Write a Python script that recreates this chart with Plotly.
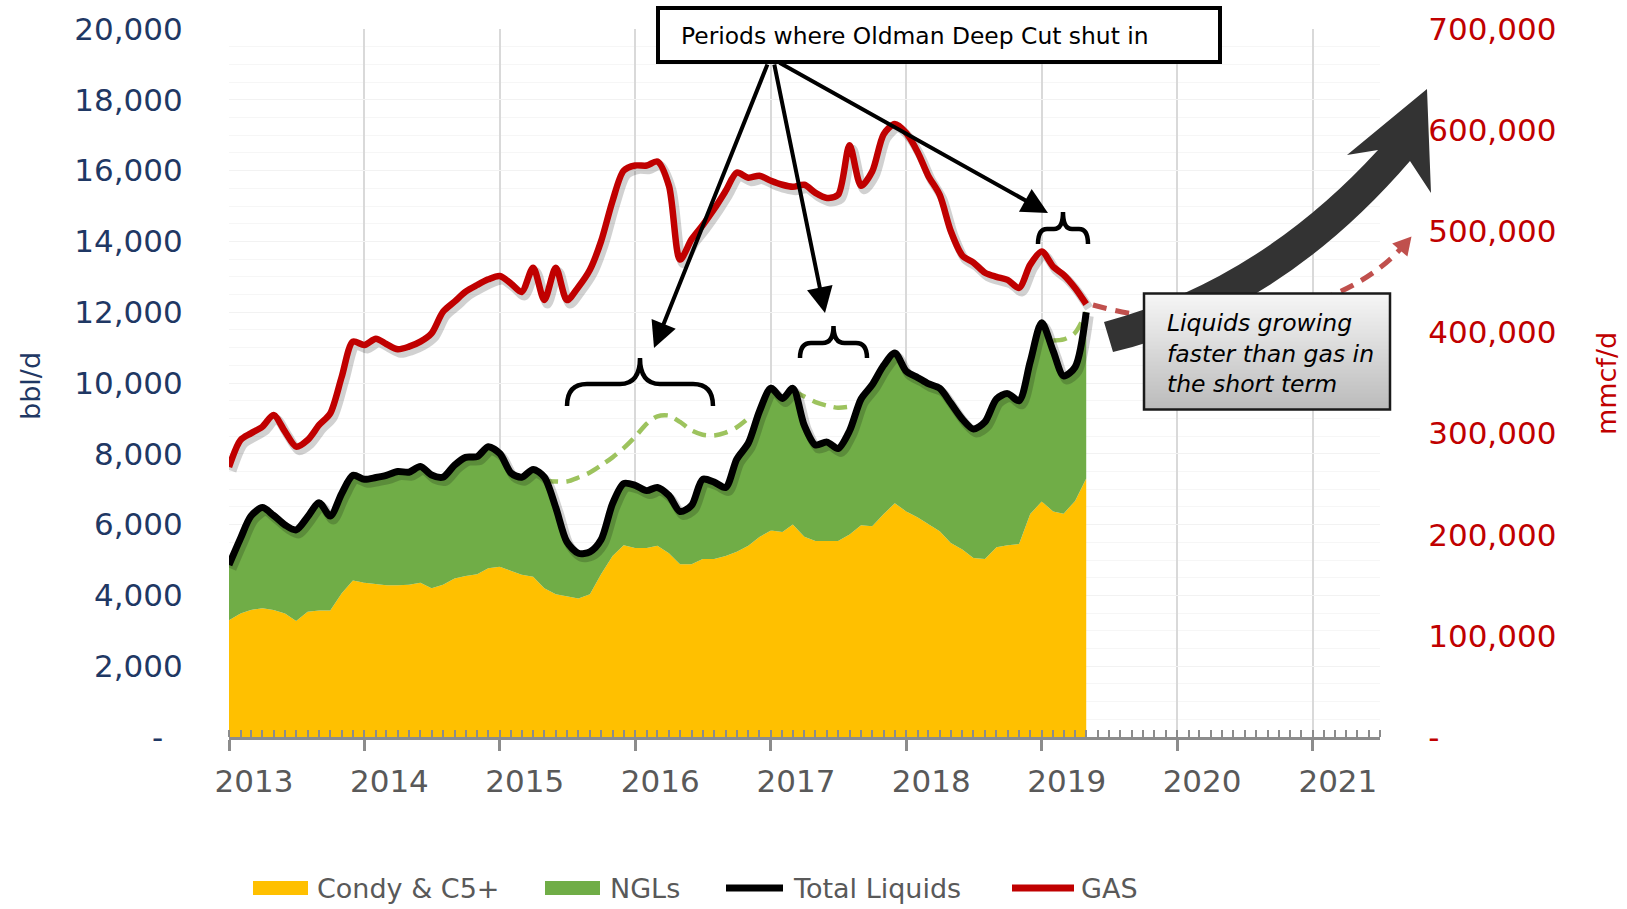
import pandas as pd
import plotly.graph_objects as go

# ---------------- data: monthly averages, Jan 2013 - May 2019 ----------------
months = pd.date_range("2013-01-01", "2019-05-01", freq="MS")

# bbl/d
condy = [3300, 3490, 3590, 3640, 3590, 3490, 3280, 3540, 3570, 3570,
         4060, 4420, 4360, 4320, 4290, 4290, 4300, 4360, 4200, 4300,
         4480, 4550, 4600, 4770, 4810, 4690, 4580, 4530, 4200, 4030,
         3970, 3910, 4030, 4600, 5110, 5420, 5340, 5340, 5400, 5190,
         4880, 4880, 5030, 5030, 5110, 5230, 5400, 5650, 5830, 5790,
         6000, 5660, 5540, 5540, 5540, 5720, 5980, 5950, 6300, 6600,
         6370, 6200, 6020, 5810, 5480, 5300, 5060, 5030, 5360, 5420,
         5450, 6300, 6650, 6370, 6310, 6670, 7300]

ngls = [1560, 2120, 2650, 2840, 2670, 2500, 2570, 2680, 3050, 2670,
        2820, 2970, 2920, 3010, 3100, 3210, 3180, 3280, 3200, 3040,
        3200, 3350, 3320, 3430, 3200, 2760, 2760, 3030, 3140, 2450,
        1540, 1280, 1200, 970, 1480, 1740, 1770, 1620, 1650, 1630,
        1490, 1660, 2250, 2170, 1940, 2620, 2900, 3550, 4020, 3770,
        3850, 3140, 2710, 2790, 2610, 2930, 3570, 4000, 4200, 4250,
        3960, 3950, 3960, 4040, 3950, 3680, 3640, 3870, 4190, 4280,
        4050, 4300, 5050, 4530, 3890, 3780, 4700]

total_liquids = [4860, 5610, 6240, 6480, 6260, 5990, 5850, 6220, 6620, 6240,
                 6880, 7390, 7280, 7330, 7390, 7500, 7480, 7640, 7400, 7340,
                 7680, 7900, 7920, 8200, 8010, 7450, 7340, 7560, 7340, 6480,
                 5510, 5190, 5230, 5570, 6590, 7160, 7110, 6960, 7050, 6820,
                 6370, 6540, 7280, 7200, 7050, 7850, 8300, 9200, 9850, 9560,
                 9850, 8800, 8250, 8330, 8150, 8650, 9550, 9950, 10500, 10850,
                 10330, 10150, 9980, 9850, 9430, 8980, 8700, 8900, 9550, 9700,
                 9500, 10600, 11700, 10900, 10200, 10450, 12000]

# mmcf/d
gas = [267000, 293600, 300200, 306800, 318400, 301900, 287100, 293600, 308500, 320000,
       356300, 390900, 387600, 393800, 388600, 383300, 385900, 390900, 399100, 420500,
       430400, 440300, 446900, 452500, 455800, 448000, 440000, 464000, 432000, 464000,
       432000, 445000, 462000, 490000, 530000, 560000, 565000, 565000, 569000, 545000,
       472000, 492000, 506000, 522000, 540000, 558000, 553000, 555000, 550000, 546000,
       544000, 546000, 538000, 533000, 536000, 585000, 545000, 559000, 596000, 606000,
       597000, 578000, 555000, 536000, 500000, 476000, 469000, 459000, 455000, 452000,
       444000, 467000, 480000, 465000, 457000, 444000, 428000]

# liquids expected without the Oldman Deep Cut shut-ins (bbl/d)
shutin_1_start = "2015-05-01"
shutin_1 = [7230, 7220, 7220, 7330, 7470, 7670, 7900, 8160, 8480, 8850,
            9060, 9080, 8900, 8660, 8540, 8520, 8600, 8750, 9000]
shutin_2_start = "2017-03-01"
shutin_2 = [9780, 9620, 9460, 9360, 9300, 9330]
shutin_3_start = "2019-02-01"
shutin_3 = [11200, 11230, 11420, 12000]

left_tick_vals = [0, 2000, 4000, 6000, 8000, 10000, 12000, 14000, 16000, 18000, 20000]
left_tick_text = ["-\u00a0\u00a0", "2,000", "4,000", "6,000", "8,000", "10,000",
                  "12,000", "14,000", "16,000", "18,000", "20,000"]
right_tick_vals = [0, 100000, 200000, 300000, 400000, 500000, 600000, 700000]
right_tick_text = ["-", "100,000", "200,000", "300,000", "400,000", "500,000",
                   "600,000", "700,000"]

# ---------------- styling ----------------
FONT = "DejaVu Sans"
NAVY = "#1F3864"
RED = "#C00000"
GRAY = "#595959"
YELLOW = "#FFC000"
GREEN = "#70AD47"
LIGHT_GREEN = "#9DC35E"
AXIS_GRAY = "#8C8C8C"

W_PX, H_PX = 1627, 909
L, R, T, B = 229, 1380, 29, 737          # plot area in page pixels


def fx(x):
    return (x - L) / (R - L)


def fy(y):
    return (B - y) / (B - T)


def pt(x, y):
    return f"{fx(x):.5f},{fy(y):.5f}"


def brace_path(x0, x1, ytip, ybar, yend, r):
    xm = (x0 + x1) / 2
    return (f"M {pt(x0, yend)} Q {pt(x0, ybar)} {pt(x0 + r, ybar)} "
            f"L {pt(xm - r, ybar)} Q {pt(xm, ybar)} {pt(xm, ytip)} "
            f"Q {pt(xm, ybar)} {pt(xm + r, ybar)} "
            f"L {pt(x1 - r, ybar)} Q {pt(x1, ybar)} {pt(x1, yend)}")


fig = go.Figure()

# stacked areas
fig.add_trace(go.Scatter(x=months, y=condy, name="Condy & C5+", mode="lines",
                         stackgroup="liq", line=dict(width=0, color=YELLOW),
                         fillcolor=YELLOW))
fig.add_trace(go.Scatter(x=months, y=ngls, name="NGLs", mode="lines",
                         stackgroup="liq", line=dict(width=0, color=GREEN),
                         fillcolor=GREEN))

# expected liquids during shut-ins
for start, vals in [(shutin_1_start, shutin_1), (shutin_2_start, shutin_2),
                    (shutin_3_start, shutin_3)]:
    fig.add_trace(go.Scatter(x=pd.date_range(start, periods=len(vals), freq="MS"),
                             y=vals, mode="lines", showlegend=False,
                             line=dict(color=LIGHT_GREEN, width=4.5, dash="14px,8px",
                                       shape="spline", smoothing=0.8)))

# soft drop shadows under the two main lines
shift = pd.Timedelta(days=8)
px_left = 20000 / (B - T)
px_right = 700000 / (B - T)
fig.add_trace(go.Scatter(x=months + shift, y=[v - 4 * px_left for v in total_liquids],
                         mode="lines", showlegend=False, hoverinfo="skip",
                         line=dict(color="rgba(0,0,0,0.18)", width=9,
                                   shape="spline", smoothing=0.8)))
fig.add_trace(go.Scatter(x=months, y=total_liquids, name="Total Liquids", mode="lines",
                         line=dict(color="black", width=7, shape="spline",
                                   smoothing=0.8)))
fig.add_trace(go.Scatter(x=months + shift, y=[v - 4 * px_right for v in gas],
                         yaxis="y2", mode="lines", showlegend=False, hoverinfo="skip",
                         line=dict(color="rgba(0,0,0,0.18)", width=9,
                                   shape="spline", smoothing=0.8)))
fig.add_trace(go.Scatter(x=months, y=gas, name="GAS", mode="lines", yaxis="y2",
                         line=dict(color=RED, width=6.5, shape="spline", smoothing=0.8)))

shapes = []

# dashed red projection arrow (gas)
p0, c1, c2, p3 = (1093, 305), (1200, 335), (1340, 320), (1405, 244)
shapes.append(dict(type="path", xref="paper", yref="paper", layer="above",
                   path=f"M {pt(*p0)} C {pt(*c1)} {pt(*c2)} {pt(*p3)}",
                   line=dict(color="#C0504D", width=5, dash="14px,9px")))
dx, dy = p3[0] - c2[0], p3[1] - c2[1]
ln = (dx * dx + dy * dy) ** 0.5
ux, uy = dx / ln, dy / ln
nx, ny = -uy, ux
tip = (p3[0] + 10 * ux, p3[1] + 10 * uy)
base = (p3[0] - 8 * ux, p3[1] - 8 * uy)
shapes.append(dict(type="path", xref="paper", yref="paper", layer="above",
                   path=(f"M {pt(*tip)} L {pt(base[0] + 10 * nx, base[1] + 10 * ny)} "
                         f"L {pt(base[0] - 10 * nx, base[1] - 10 * ny)} Z"),
                   fillcolor="#C0504D", line=dict(width=0)))

# big curved arrow (liquids)
arrow = (f"M {pt(1104, 322)} Q {pt(1259, 280)} {pt(1378, 150)} "
         f"L {pt(1347, 155)} L {pt(1427, 89)} L {pt(1431, 193)} L {pt(1410, 161)} "
         f"Q {pt(1280, 312)} {pt(1113, 352)} Z")
shapes.append(dict(type="path", xref="paper", yref="paper", layer="above",
                   path=arrow, fillcolor="#333333", line=dict(width=0)))

# gradient call-out box
bx0, bx1, by0, by1 = 1144, 1390, 293.5, 409.5
n_strips = 29
for i in range(n_strips):
    g = int(round(245 - (245 - 188) * i / (n_strips - 1)))
    ya = by0 + (by1 - by0) * i / n_strips
    yb = by0 + (by1 - by0) * (i + 1) / n_strips + 0.6
    shapes.append(dict(type="rect", xref="paper", yref="paper", layer="above",
                       x0=fx(bx0), x1=fx(bx1), y0=fy(yb), y1=fy(ya),
                       fillcolor=f"rgb({g},{g},{g})", line=dict(width=0)))
shapes.append(dict(type="rect", xref="paper", yref="paper", layer="above",
                   x0=fx(bx0), x1=fx(bx1), y0=fy(by1), y1=fy(by0),
                   line=dict(color="#1A1A1A", width=2.5)))

# title box
shapes.append(dict(type="rect", xref="paper", yref="paper", layer="above",
                   x0=fx(658), x1=fx(1220), y0=fy(62), y1=fy(8),
                   fillcolor="white", line=dict(color="black", width=4)))

# braces over the shut-in periods
for x0, x1, ytip, ybar, yend, r in [(567, 713, 358, 384, 406, 20),
                                    (800, 867, 326, 343, 358, 11),
                                    (1038, 1088, 212, 229, 244, 9)]:
    shapes.append(dict(type="path", xref="paper", yref="paper", layer="above",
                       path=brace_path(x0, x1, ytip, ybar, yend, r),
                       line=dict(color="black", width=4.5)))

# legend
for x0, x1, col in [(253, 308, YELLOW), (545, 600, GREEN)]:
    shapes.append(dict(type="rect", xref="paper", yref="paper",
                       x0=fx(x0), x1=fx(x1), y0=fy(895), y1=fy(881),
                       fillcolor=col, line=dict(width=0)))
for x0, x1, col in [(726, 783, "black"), (1012, 1074, RED)]:
    shapes.append(dict(type="line", xref="paper", yref="paper",
                       x0=fx(x0), x1=fx(x1), y0=fy(888), y1=fy(888),
                       line=dict(color=col, width=7)))

annotations = []
for lx, label in [(315, "Condy & C5+"), (608, "NGLs"), (791, "Total Liquids"),
                  (1079, "GAS")]:
    annotations.append(dict(x=fx(lx), y=fy(888), xref="paper", yref="paper",
                            text=label, showarrow=False, xanchor="left",
                            yanchor="middle", font=dict(size=27, color=GRAY)))

annotations.append(dict(x=fx(679), y=fy(36), xref="paper", yref="paper",
                        text="Periods where Oldman Deep Cut shut in", showarrow=False,
                        xanchor="left", yanchor="middle",
                        font=dict(size=23.4, color="black")))
annotations.append(dict(x=fx(1165), y=fy(353), xref="paper", yref="paper",
                        text="<i>Liquids growing<br>faster than gas in<br>the short term</i>",
                        showarrow=False, xanchor="left", yanchor="middle", align="left",
                        font=dict(size=23.5, color="black")))

# pointers from the title box to the braces
for (tx, ty), (sx, sy) in [((654, 348), (768, 63)), ((825, 313), (774, 63)),
                           ((1048, 213), (778, 62))]:
    annotations.append(dict(x=fx(tx), y=fy(ty), xref="paper", yref="paper",
                            ax=sx - tx, ay=sy - ty, axref="pixel", ayref="pixel",
                            text="", showarrow=True, arrowhead=2, arrowsize=1.3,
                            arrowwidth=4, arrowcolor="black", standoff=0))

# axis titles
annotations.append(dict(x=fx(30), y=fy(386), xref="paper", yref="paper", text="bbl/d",
                        textangle=-90, showarrow=False, xanchor="center",
                        yanchor="middle", font=dict(size=27, color=NAVY)))
annotations.append(dict(x=fx(1606), y=fy(384), xref="paper", yref="paper",
                        text="mmcf/d", textangle=-90, showarrow=False, xanchor="center",
                        yanchor="middle", font=dict(size=27, color=RED)))

fig.update_layout(
    width=W_PX, height=H_PX,
    margin=dict(l=L, r=W_PX - R, t=T, b=H_PX - B, pad=0),
    paper_bgcolor="white", plot_bgcolor="white",
    showlegend=False,
    font=dict(family=FONT),
    shapes=shapes,
    annotations=annotations,
    xaxis=dict(
        type="date", range=["2013-01-01", "2021-07-01"],
        tick0="2013-01-01", dtick="M12", tickformat="%Y",
        showgrid=True, gridcolor="#D9D9D9", gridwidth=1.5,
        showline=True, linecolor=AXIS_GRAY, linewidth=2.5,
        ticks="outside", ticklen=11, tickwidth=2.5, tickcolor=AXIS_GRAY,
        ticklabelshift=25, ticklabelstandoff=4,
        tickfont=dict(size=31, color=GRAY),
        minor=dict(dtick="M1", ticks="inside", ticklen=7, tickwidth=1.5,
                   tickcolor=AXIS_GRAY, showgrid=False),
        zeroline=False,
    ),
    yaxis=dict(
        range=[0, 20000], tickvals=left_tick_vals, ticktext=left_tick_text,
        showgrid=True, gridcolor="#F2F2F2", gridwidth=1,
        minor=dict(dtick=500, showgrid=True, gridcolor="#F6F6F6", gridwidth=1),
        ticks="outside", ticklen=39, tickcolor="rgba(0,0,0,0)",
        tickfont=dict(size=31, color=NAVY), zeroline=False, showline=False,
    ),
    yaxis2=dict(
        range=[0, 700000], overlaying="y", side="right",
        tickvals=right_tick_vals, ticktext=right_tick_text,
        showgrid=False, ticks="outside", ticklen=41, tickcolor="rgba(0,0,0,0)",
        tickfont=dict(size=31, color=RED), zeroline=False, showline=False,
    ),
)

fig.write_html("out.html")
